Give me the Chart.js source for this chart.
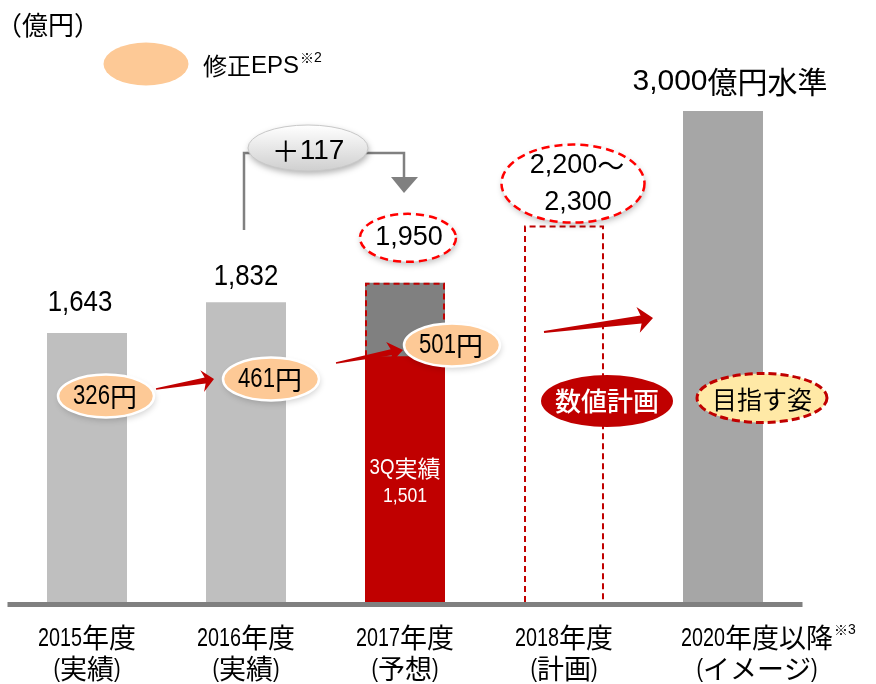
<!DOCTYPE html>
<html><head><meta charset="utf-8">
<script src="https://cdn.jsdelivr.net/npm/chart.js@4"></script>
<style>html,body{margin:0;padding:0;background:#fff}#wrap{width:876px;height:684px;position:relative}</style>
</head><body><div id="wrap"><canvas id="c" width="876" height="684"></canvas></div>
<script>
// ---- data ----
const categories = ['2015年度', '2016年度', '2017年度', '2018年度', '2020年度以降'];
const categorySub = ['(実績)', '(実績)', '(予想)', '(計画)', '(イメージ)'];
const profitValues = [1643, 1832, 1950, 2300, 3000];
const actual3QValues = [null, null, 1501, null, null];
const valueLabels = ['1,643', '1,832', '1,950', ['2,200～', '2,300'], '3,000億円水準'];
const epsLabels = ['326円', '461円', '501円'];
const diffLabel = '＋117';
const unitLabel = '（億円）';
const legendLabel = '修正EPS';

const LAT = "'Liberation Sans', Arial, sans-serif";
const CJK = "'Noto Sans CJK JP', sans-serif";

// mixed text: latin runs in Liberation Sans (optionally condensed), CJK runs in Noto Sans CJK
function mtext(ctx, s, x, y, o) {
  const runs = [];
  for (const ch of s) {
    const a = ch.charCodeAt(0) < 0x2000;
    if (runs.length && runs[runs.length - 1].a === a) runs[runs.length - 1].t += ch;
    else runs.push({ a, t: ch });
  }
  const w = o.weight ? o.weight + ' ' : '';
  ctx.save();
  ctx.textBaseline = 'middle';
  ctx.fillStyle = o.color || '#000';
  let total = 0;
  runs.forEach(r => {
    r.font = r.a ? w + o.lat + 'px ' + LAT : w + o.cjk + 'px ' + CJK;
    r.sx = r.a ? (o.sx || 1) : 1;
    ctx.font = r.font;
    r.w = ctx.measureText(r.t).width * r.sx;
    total += r.w;
  });
  let cx = o.align === 'left' ? x : x - total / 2;
  runs.forEach(r => {
    ctx.save();
    ctx.font = r.font;
    ctx.textAlign = 'left';
    ctx.translate(cx, y + (r.a ? (o.latDy || 0) : 0));
    ctx.scale(r.sx, 1);
    ctx.fillText(r.t, 0, 0);
    ctx.restore();
    cx += r.w;
  });
  ctx.restore();
  return total;
}

function ellipse(ctx, cx, cy, w, h, o) {
  ctx.save();
  ctx.beginPath();
  ctx.ellipse(cx, cy, w / 2, h / 2, 0, 0, Math.PI * 2);
  if (o.shadow) {
    ctx.shadowColor = o.shadow; ctx.shadowBlur = 6; ctx.shadowOffsetX = 1; ctx.shadowOffsetY = 3;
  }
  if (o.fill) { ctx.fillStyle = o.fill; ctx.fill(); }
  ctx.shadowColor = 'transparent';
  if (o.stroke) {
    ctx.strokeStyle = o.stroke; ctx.lineWidth = o.lw || 2;
    ctx.setLineDash(o.dash || []);
    ctx.stroke();
  }
  ctx.restore();
}
function arrow(ctx, x0, y0, x1, y1, tailW, shaftW, headLen, headW, color) {
  const dx = x1 - x0, dy = y1 - y0, L = Math.hypot(dx, dy);
  const ux = dx / L, uy = dy / L, nx = -uy, ny = ux;
  const bx = x1 - ux * headLen, by = y1 - uy * headLen;
  ctx.save();
  ctx.fillStyle = color;
  ctx.beginPath();
  ctx.moveTo(x0 + nx * tailW / 2, y0 + ny * tailW / 2);
  ctx.lineTo(bx + nx * shaftW / 2, by + ny * shaftW / 2);
  ctx.lineTo(bx + nx * headW / 2 - ux * 3, by + ny * headW / 2 - uy * 3);
  ctx.lineTo(x1, y1);
  ctx.lineTo(bx - nx * headW / 2 - ux * 3, by - ny * headW / 2 - uy * 3);
  ctx.lineTo(bx - nx * shaftW / 2, by - ny * shaftW / 2);
  ctx.lineTo(x0 - nx * tailW / 2, y0 - ny * tailW / 2);
  ctx.closePath();
  ctx.fill();
  ctx.restore();
}

const overlay = {
  id: 'overlay',
  afterDatasetsDraw(chart) {
    const ctx = chart.ctx, xs = chart.scales.x, ys = chart.scales.y, ca = chart.chartArea;
    const red = chart.getDatasetMeta(0).data, all = chart.getDatasetMeta(1).data;
    const y0 = ys.getPixelForValue(0);
    const X = i => xs.getPixelForValue(i);

    // axis line
    ctx.save();
    ctx.strokeStyle = '#808080'; ctx.lineWidth = 5;
    ctx.beginPath(); ctx.moveTo(ca.left, y0 + 2.5); ctx.lineTo(ca.right, y0 + 2.5); ctx.stroke();
    ctx.restore();

    // dashed outline of 2017 forecast part
    ctx.save();
    ctx.strokeStyle = '#c00000'; ctx.lineWidth = 2; ctx.setLineDash([6, 4]);
    let b = all[2], hw = b.width / 2, rt = red[2].y;
    ctx.beginPath();
    ctx.moveTo(b.x - hw + 1, rt); ctx.lineTo(b.x - hw + 1, b.y + 1); ctx.lineTo(b.x + hw - 1, b.y + 1); ctx.lineTo(b.x + hw - 1, rt);
    ctx.stroke();
    // dashed 2018 plan box
    b = all[3]; hw = b.width / 2;
    ctx.beginPath();
    ctx.moveTo(b.x - hw + 1, y0); ctx.lineTo(b.x - hw + 1, b.y + 1); ctx.lineTo(b.x + hw - 1, b.y + 1); ctx.lineTo(b.x + hw - 1, y0);
    ctx.stroke();
    ctx.restore();

    // value labels above bars
    mtext(ctx, valueLabels[0], X(0) - 7, all[0].y - 30, { lat: 30, sx: 0.86, cjk: 30 });
    mtext(ctx, valueLabels[1], X(1), all[1].y - 25, { lat: 30, sx: 0.86, cjk: 30 });
    mtext(ctx, valueLabels[4], X(4) + 7, all[4].y - 29, { lat: 30, cjk: 30 });

    // 1,950 dashed ellipse
    ellipse(ctx, X(2) + 3, all[2].y - 45, 96, 48, { fill: '#fff', stroke: '#ff0000', lw: 2.5, dash: [8, 5], shadow: 'rgba(0,0,0,0.25)' });
    mtext(ctx, valueLabels[2], X(2) + 4, all[2].y - 45, { lat: 27, cjk: 27 });

    // 2,200~2,300 dashed ellipse
    ellipse(ctx, X(3) + 9, all[3].y - 42, 143, 78, { fill: '#fff', stroke: '#ff0000', lw: 2.5, dash: [8, 5], shadow: 'rgba(0,0,0,0.25)' });
    mtext(ctx, valueLabels[3][0], X(3) + 13, all[3].y - 60, { lat: 27, cjk: 27 });
    mtext(ctx, valueLabels[3][1], X(3) + 14, all[3].y - 23, { lat: 27, cjk: 27 });

    // 3Q actual text in red bar
    mtext(ctx, '3Q実績', X(2), 468, { lat: 22, sx: 0.85, cjk: 23, color: '#fff' });
    mtext(ctx, actual3QValues[2].toLocaleString('en-US'), X(2), 496, { lat: 21, sx: 0.84, cjk: 21, color: '#fff' });

    // +117 bracket
    ctx.save();
    ctx.strokeStyle = '#808080'; ctx.lineWidth = 2.5;
    ctx.beginPath();
    ctx.moveTo(X(1) - 2, 230); ctx.lineTo(X(1) - 2, 153); ctx.lineTo(X(1) + 10, 153);
    ctx.moveTo(X(1) + 115, 153); ctx.lineTo(X(2) - 1, 153); ctx.lineTo(X(2) - 1, 178);
    ctx.stroke();
    ctx.fillStyle = '#808080';
    ctx.beginPath(); ctx.moveTo(X(2) - 14, 177); ctx.lineTo(X(2) + 13, 177); ctx.lineTo(X(2) - 1, 193); ctx.closePath(); ctx.fill();
    ctx.restore();
    const g = ctx.createLinearGradient(0, 125, 0, 171);
    g.addColorStop(0, '#ffffff'); g.addColorStop(1, '#cfcfcf');
    ellipse(ctx, X(1) + 62, 148, 120, 46, { fill: g, stroke: '#c8c8c8', lw: 1, shadow: 'rgba(0,0,0,0.3)' });
    mtext(ctx, diffLabel, X(1) + 62, 151, { lat: 28, cjk: 28 });

    // red arrows
    arrow(ctx, X(0) + 69, 389, X(1) - 32, 379, 1.5, 6, 9, 22, '#c00000');
    arrow(ctx, X(1) + 90, 363, X(2) - 2, 350, 1.5, 6, 12, 22, '#c00000');
    arrow(ctx, X(3) - 20, 332, X(4) - 70, 318, 2, 8, 12, 26, '#c00000');

    // EPS ellipses
    const epsPos = [[X(0) + 19, 396], [X(1) + 25, 379], [X(2) + 47, 345]];
    epsPos.forEach((p, i) => {
      ellipse(ctx, p[0], p[1], 96, 43, { fill: '#fdc996', stroke: '#ffffff', lw: 2.5, shadow: 'rgba(0,0,0,0.18)' });
      mtext(ctx, epsLabels[i], p[0] - 1, p[1] + 1, { lat: 27, sx: 0.82, cjk: 27 });
    });

    // plan / vision badges
    ellipse(ctx, X(3) + 43, 401, 132, 52, { fill: '#c00000' });
    mtext(ctx, '数値計画', X(3) + 43, 401, { lat: 26, cjk: 26, weight: '500', color: '#fff' });
    ellipse(ctx, X(4) + 39, 398, 130, 49, { fill: '#ffe9a6', stroke: '#c00000', lw: 3, dash: [8, 4] });
    mtext(ctx, '目指す姿', X(4) + 39, 399, { lat: 25, cjk: 25 });

    // category labels
    categories.forEach((c, i) => {
      const cx = i === 4 ? X(i) + 34 : X(i);
      const o = { lat: 26, sx: 0.76, cjk: 27, latDy: 1 };
      const w = mtext(ctx, c, cx, 638, o);
      mtext(ctx, categorySub[i], cx, 669, o);
      if (i === 4) mtext(ctx, '※3', cx + w / 2 + 1, 630, { lat: 14, cjk: 14, align: 'left' });
    });

    // unit and legend
    mtext(ctx, unitLabel, -4, 25, { lat: 26, cjk: 26, align: 'left' });
    ellipse(ctx, 146, 64, 85, 43, { fill: '#fdc996' });
    const lw = mtext(ctx, legendLabel, 203, 66, { lat: 24, cjk: 24, align: 'left' });
    mtext(ctx, '※2', 203 + lw + 1, 58, { lat: 14, cjk: 14, align: 'left' });
  }
};

new Chart(document.getElementById('c'), {
  type: 'bar',
  data: {
    labels: categories,
    datasets: [
      { label: '3Q実績', data: actual3QValues, backgroundColor: '#c00000', grouped: false, barPercentage: 0.503, categoryPercentage: 1 },
      { label: '経常利益', data: profitValues, backgroundColor: ['#bfbfbf', '#bfbfbf', '#808080', 'rgba(0,0,0,0)', '#a6a6a6'], grouped: false, barPercentage: 0.503, categoryPercentage: 1 }
    ]
  },
  options: {
    responsive: false,
    animation: false,
    layout: { padding: { top: 111, bottom: 82, left: 7.5, right: 73.5 } },
    plugins: { legend: { display: false }, tooltip: { enabled: false } },
    scales: {
      x: { display: false, offset: true },
      y: { display: false, min: 0, max: 3000 }
    }
  },
  plugins: [overlay]
});
</script>
</body></html>
